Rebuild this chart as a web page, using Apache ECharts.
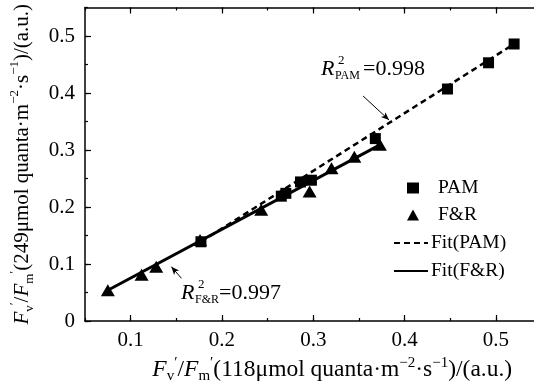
<!DOCTYPE html>
<html>
<head>
<meta charset="utf-8">
<script src="https://cdn.jsdelivr.net/npm/echarts@6/dist/echarts.min.js"></script>
<style>
  html, body { margin: 0; padding: 0; background: #fff; }
  #chart { width: 534px; height: 390px; }
</style>
</head>
<body>
<div id="chart"></div>
<script>
// measured points, Fv'/Fm' at 118 (x) vs 249 (y) umol quanta
const pamX = [0.177, 0.265, 0.270, 0.286, 0.298, 0.368, 0.447, 0.492, 0.520];
const pamY = [0.139, 0.219, 0.224, 0.244, 0.247, 0.320, 0.407, 0.453, 0.486];
const frX = [0.075, 0.112, 0.128, 0.176, 0.243, 0.296, 0.320, 0.345, 0.373];
const frY = [0.054, 0.081, 0.095, 0.142, 0.195, 0.227, 0.268, 0.288, 0.309];

// fitted lines (end points)
const fitPamX = [0.177, 0.520];
const fitPamY = [0.139, 0.486];
const fitFrX = [0.075, 0.373];
const fitFrY = [0.054, 0.309];

// annotation arrows [from, to]
const arrowPam = [[0.3546, 0.3947], [0.383, 0.3526]];
const arrowFr = [[0.1556, 0.0749], [0.1446, 0.0953]];

const xMajor = [0.1, 0.2, 0.3, 0.4, 0.5];
const yMajor = [0, 0.1, 0.2, 0.3, 0.4, 0.5];

const FONT = '"Liberation Serif", "Times New Roman", serif';
const pairs = (xs, ys) => xs.map((x, i) => [x, ys[i]]);

function makeRich(size, small) {
  const base = { fontFamily: FONT, color: '#000', lineHeight: 28 };
  return {
    n: Object.assign({ fontSize: size }, base),
    i: Object.assign({ fontSize: size, fontStyle: 'italic' }, base),
    sub: Object.assign({ fontSize: small, verticalAlign: 'bottom' }, base),
    sup: Object.assign({ fontSize: small, verticalAlign: 'top' }, base)
  };
}
const axisTitle = (q) =>
  '{i|F}{sub|v}{sup|′}{n|/}{i|F}{sub|m}{sup|′}{n|(' + q + 'μmol quanta·m}{sup|−2}{n|·s}{sup|−1}{n|)/(a.u.)}';

const lineBlack = { show: true, lineStyle: { color: '#000', width: 1.5 } };
const fmt = (v) => (Math.round(v * 100) % 10 === 0 ? String(Math.round(v * 10) / 10) : '');

const chart = echarts.init(document.getElementById('chart'));

const baseX = { type: 'value', min: 0.05, max: 0.55, interval: 0.05, splitLine: { show: false } };
const baseY = { type: 'value', min: 0, max: 0.55, interval: 0.05, splitLine: { show: false } };
const legendText = { color: '#000', fontSize: 19.5, fontFamily: FONT, lineHeight: 18 };

chart.setOption({
  animation: false,
  backgroundColor: '#fff',
  grid: { left: 85, top: 7.5, width: 456.5, height: 313.5, containLabel: false, outerBoundsMode: 'none' },
  xAxis: [
    Object.assign({}, baseX, {
      position: 'bottom',
      axisLine: lineBlack,
      axisTick: { inside: true, length: 3, lineStyle: { color: '#000', width: 1.2 } },
      axisLabel: { formatter: fmt, color: '#000', fontSize: 21, fontFamily: FONT, margin: 9 },
      name: axisTitle('118'),
      nameLocation: 'middle',
      nameGap: 33,
      nameTextStyle: { rich: makeRich(23.5, 15), padding: [0, 0, 0, 38] }
    }),
    Object.assign({}, baseX, {
      position: 'bottom',
      axisLine: { show: false },
      axisTick: { inside: true, length: 6, customValues: xMajor, lineStyle: { color: '#000', width: 1.2 } },
      axisLabel: { show: false }
    }),
    Object.assign({}, baseX, {
      position: 'top',
      axisLine: lineBlack,
      axisTick: { inside: true, length: 3, lineStyle: { color: '#000', width: 1.2 } },
      axisLabel: { show: false }
    }),
    Object.assign({}, baseX, {
      position: 'top',
      axisLine: { show: false },
      axisTick: { inside: true, length: 6, customValues: xMajor, lineStyle: { color: '#000', width: 1.2 } },
      axisLabel: { show: false }
    })
  ],
  yAxis: [
    Object.assign({}, baseY, {
      position: 'left',
      axisLine: lineBlack,
      axisTick: { inside: true, length: 3, lineStyle: { color: '#000', width: 1.2 } },
      axisLabel: { formatter: fmt, color: '#000', fontSize: 21, fontFamily: FONT, margin: 10 },
      name: axisTitle('249'),
      nameLocation: 'middle',
      nameRotate: 90,
      nameGap: 49,
      nameTextStyle: { rich: makeRich(21, 13) }
    }),
    Object.assign({}, baseY, {
      position: 'left',
      axisLine: { show: false },
      axisTick: { inside: true, length: 6, customValues: yMajor, lineStyle: { color: '#000', width: 1.2 } },
      axisLabel: { show: false }
    })
  ],
  legend: [
    {
      data: ['PAM', 'F&R'],
      orient: 'vertical',
      left: 402, top: 173,
      itemWidth: 12, itemHeight: 11, itemGap: 7,
      textStyle: Object.assign({}, legendText, { padding: [0, 0, 0, 14] })
    },
    {
      data: [
        { name: 'Fit(PAM)', itemStyle: { opacity: 0 } },
        { name: 'Fit(F&R)', itemStyle: { opacity: 0 } }
      ],
      orient: 'vertical',
      left: 388, top: 228,
      itemWidth: 34, itemHeight: 14, itemGap: 8,
      textStyle: Object.assign({}, legendText, { padding: [0, 0, 0, -2] })
    }
  ],
  series: [
    {
      name: 'Fit(PAM)', type: 'line', data: pairs(fitPamX, fitPamY),
      symbol: 'none', itemStyle: { color: '#000' },
      lineStyle: { color: '#000', width: 2.5, type: [6, 4] }, z: 2,
      markLine: {
        silent: true, symbol: ['none', 'arrow'], symbolSize: [5, 8], label: { show: false },
        lineStyle: { color: '#000', width: 1, type: 'solid' },
        data: [[{ coord: arrowPam[0] }, { coord: arrowPam[1] }]]
      }
    },
    {
      name: 'Fit(F&R)', type: 'line', data: pairs(fitFrX, fitFrY),
      symbol: 'none', itemStyle: { color: '#000' },
      lineStyle: { color: '#000', width: 3, type: 'solid' }, z: 2,
      markLine: {
        silent: true, symbol: ['none', 'arrow'], symbolSize: [5, 8], label: { show: false },
        lineStyle: { color: '#000', width: 1, type: 'solid' },
        data: [[{ coord: arrowFr[0] }, { coord: arrowFr[1] }]]
      }
    },
    {
      name: 'PAM', type: 'scatter', data: pairs(pamX, pamY),
      symbol: 'rect', symbolSize: 11, itemStyle: { color: '#000', opacity: 1 }, z: 3
    },
    {
      name: 'F&R', type: 'scatter', data: pairs(frX, frY),
      symbol: 'triangle', symbolSize: [14, 12], itemStyle: { color: '#000', opacity: 1 }, z: 3
    }
  ],
  graphic: [
    // R^2 PAM label
    { type: 'text', left: 321, top: 58, style: { text: 'R', font: 'italic 22px ' + FONT, fill: '#000' } },
    { type: 'text', left: 338, top: 54, style: { text: '2', font: '13px ' + FONT, fill: '#000' } },
    { type: 'text', left: 335, top: 70, style: { text: 'PAM', font: '12px ' + FONT, fill: '#000' } },
    { type: 'text', left: 363, top: 58, style: { text: '=0.998', font: '22px ' + FONT, fill: '#000' } },
    // R^2 F&R label
    { type: 'text', left: 181, top: 282, style: { text: 'R', font: 'italic 22px ' + FONT, fill: '#000' } },
    { type: 'text', left: 198, top: 278, style: { text: '2', font: '13px ' + FONT, fill: '#000' } },
    { type: 'text', left: 195, top: 294, style: { text: 'F&R', font: '12px ' + FONT, fill: '#000' } },
    { type: 'text', left: 219, top: 282, style: { text: '=0.997', font: '22px ' + FONT, fill: '#000' } }
  ]
});
</script>
</body>
</html>
